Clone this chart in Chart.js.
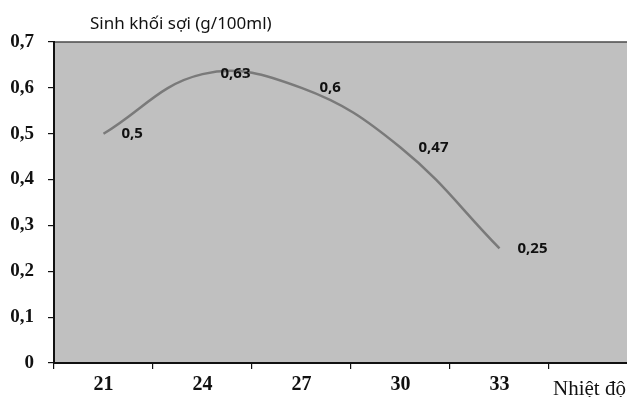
<!DOCTYPE html>
<html>
<head>
<meta charset="utf-8">
<script src="https://cdn.jsdelivr.net/npm/chart.js@4.4.0/dist/chart.umd.min.js"></script>
<style>
  html, body { margin: 0; padding: 0; background: #fff; overflow: hidden; }
  #wrap { position: relative; width: 650px; height: 397px; }
</style>
</head>
<body>
<div id="wrap"><canvas id="bioChart"></canvas></div>
<script>
  // du lieu doc tu hinh
  var temps = ['21', '24', '27', '30', '33', ''];
  var biomass = [0.5, 0.63, 0.6, 0.47, 0.25];
  var yTicks = [0, 0.1, 0.2, 0.3, 0.4, 0.5, 0.6, 0.7];
  var chartTitle = 'Sinh khối sợi (g/100ml)';
  var xTitle = 'Nhiệt độ';

  var serif = '"Liberation Serif", "Times New Roman", serif';
  var sans = '"Noto Sans", "Open Sans", sans-serif';

  function comma(v) {
    return v === 0 ? '0' : String(v).replace('.', ',');
  }

  // nen xam cho vung ve + chu thich
  var decor = {
    id: 'decor',
    beforeDraw: function(chart) {
      var a = chart.chartArea, c = chart.ctx;
      c.save();
      c.fillStyle = '#c0c0c0';
      c.fillRect(a.left, a.top, a.right - a.left, a.bottom - a.top);
      c.strokeStyle = '#4a4a4a';
      c.lineWidth = 1.5;
      c.beginPath();
      c.moveTo(a.left, a.top);
      c.lineTo(a.right, a.top);
      c.stroke();
      c.restore();
    },
    afterDraw: function(chart) {
      var c = chart.ctx;
      var meta = chart.getDatasetMeta(0);
      c.save();
      // title
      c.fillStyle = '#111';
      c.font = '17px ' + sans;
      c.textBaseline = 'middle';
      c.textAlign = 'left';
      c.fillText(chartTitle, 90, 24);
      // nhan gia tri
      c.font = 'bold 15px ' + sans;
      c.fillStyle = '#111';
      meta.data.forEach(function(pt, i) {
        c.fillText(comma(biomass[i]), pt.x + 18, pt.y);
      });
      // ten truc x
      var xs = chart.scales.x;
      var step = xs.getPixelForValue(1) - xs.getPixelForValue(0);
      c.font = '21px ' + serif;
      c.fillStyle = '#111';
      c.fillText(xTitle, xs.getPixelForValue(5) - step / 2 + 4, 389);
      c.restore();
    }
  };

  var ctx = document.getElementById('bioChart');
  var chart = new Chart(ctx, {
    type: 'line',
    data: {
      labels: temps,
      datasets: [{
        data: biomass,
        borderColor: '#7a7a7a',
        borderWidth: 2.5,
        tension: 0.4,
        pointRadius: 0,
        fill: false
      }]
    },
    options: {
      responsive: true,
      maintainAspectRatio: false,
      animation: false,
      layout: { padding: { top: 42, right: 2, left: 0, bottom: 0 } },
      plugins: {
        legend: { display: false },
        tooltip: { enabled: false }
      },
      scales: {
        x: {
          offset: true,
          grid: {
            offset: true,
            drawOnChartArea: false,
            drawTicks: true,
            tickLength: 6,
            color: '#111',
            lineWidth: 1.2
          },
          border: { display: true, color: '#111', width: 2 },
          ticks: {
            color: '#111',
            padding: 4,
            maxRotation: 0,
            autoSkip: false,
            font: { family: serif, size: 20, weight: 'bold' }
          },
          afterFit: function(s) { s.height = 34; }
        },
        y: {
          min: 0,
          max: 0.7,
          afterBuildTicks: function(s) {
            s.ticks = yTicks.map(function(v) { return { value: v }; });
          },
          grid: {
            drawOnChartArea: false,
            drawTicks: true,
            tickLength: 6,
            color: '#111',
            lineWidth: 1.2
          },
          border: { display: true, color: '#111', width: 2 },
          ticks: {
            color: '#111',
            padding: 14,
            font: { family: serif, size: 19, weight: 'bold' },
            callback: function(v) { return comma(v); }
          },
          afterFit: function(s) { s.width = 54; }
        }
      }
    },
    plugins: [decor]
  });
</script>
</body>
</html>
